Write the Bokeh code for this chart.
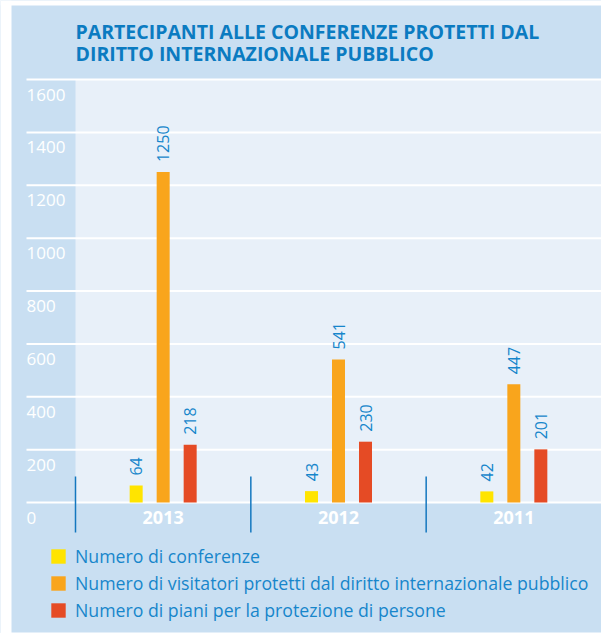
import numpy as np
from bokeh.plotting import figure
from bokeh.models import Range1d, BoxAnnotation, Legend, LegendItem, ColumnDataSource
from bokeh.core.properties import value
from bokeh.embed import file_html
from bokeh.resources import INLINE

# ---------------- data ----------------
years = ["2013", "2012", "2011"]
series_names = [
    "Numero di conferenze",
    "Numero di visitatori protetti dal diritto internazionale pubblico",
    "Numero di piani per la protezione di persone",
]
conferenze = [64, 43, 42]
visitatori = [1250, 541, 447]
piani = [218, 230, 201]
y_ticks = [0, 200, 400, 600, 800, 1000, 1200, 1400, 1600]
title_lines = ["PARTECIPANTI ALLE CONFERENZE PROTETTI DAL",
               "DIRITTO INTERNAZIONALE PUBBLICO"]

# ---------------- styling ----------------
PANEL = "#c9dff2"
PLOT_BG = "#e8f0f9"
TITLE_BLUE = "#0b7bc1"
TEXT_BLUE = "#1786cb"
SEP_BLUE = "#1477bf"
COLORS = ["#ffe400", "#f9a51c", "#e54b25"]
FONT = "Open Sans"

W, H = 601, 633
PAGE_X0, PAGE_Y0 = 0, 0
ZERO_PX = 502       # page y of value 0
TOP_PX = 79         # page y of value 1600
CAT_LEFT_PX = 75    # page x of left edge of first category
CAT_RIGHT_PX = 601  # page x of right edge of last category

py_per_unit = (ZERO_PX - TOP_PX) / y_ticks[-1]
px_per_cat = (CAT_RIGHT_PX - CAT_LEFT_PX) / len(years)

def ydata(page_y):
    return (ZERO_PX - page_y) / py_per_unit

def xdata(page_x):
    return (page_x - CAT_LEFT_PX) / px_per_cat

x_range = Range1d(xdata(PAGE_X0), xdata(PAGE_X0 + W))
y_range = Range1d(ydata(PAGE_Y0 + H), ydata(PAGE_Y0))

p = figure(width=W, height=H, x_range=x_range, y_range=y_range,
           x_axis_type=None, y_axis_type=None, toolbar_location=None,
           output_backend="svg", min_border=0)
p.outline_line_color = None
p.background_fill_color = PANEL
p.border_fill_color = PANEL
p.grid.visible = False

# white margins around the panel
p.add_layout(BoxAnnotation(right=xdata(11), fill_color="white", fill_alpha=1,
                           line_color=None, level="image"))
p.add_layout(BoxAnnotation(bottom=ydata(5), fill_color="white", fill_alpha=1,
                           line_color=None, level="image"))
p.add_layout(BoxAnnotation(top=ydata(632), fill_color="white", fill_alpha=1,
                           line_color=None, level="image"))
# light plot area
p.add_layout(BoxAnnotation(left=0, bottom=0, top=y_ticks[-1], fill_color=PLOT_BG,
                           fill_alpha=1, line_color=None, level="image"))

# grid lines (white)
grid_x0 = xdata(26)
p.segment(x0=[grid_x0] * len(y_ticks), x1=[len(years)] * len(y_ticks),
          y0=y_ticks, y1=y_ticks, line_color="white", line_width=2)

# y tick labels
p.text(x=[grid_x0] * len(y_ticks), y=y_ticks, text=[str(t) for t in y_ticks],
       text_color="white", text_font=value(FONT), text_font_size="17px",
       text_align="left", text_baseline="middle", y_offset=15)

# bars
centers = np.arange(len(years)) + 0.5
offset = 27 / px_per_cat
bar_w = 13 / px_per_cat
legend_items = []
for i, (vals, col, name) in enumerate(zip([conferenze, visitatori, piani], COLORS, series_names)):
    xs = centers + (i - 1) * offset
    src = ColumnDataSource(dict(x=xs, top=vals, lab=[str(v) for v in vals]))
    r = p.vbar(x="x", top="top", bottom=0, width=bar_w, source=src,
               fill_color=col, line_color=None)
    legend_items.append(LegendItem(label=name, renderers=[r]))
    p.text(x="x", y="top", text="lab", source=src, angle=np.pi / 2,
           text_color=TEXT_BLUE, text_font=value(FONT), text_font_size="16px",
           text_align="left", text_baseline="middle", y_offset=-10)

# category labels
p.text(x=centers, y=[0] * len(years), text=years, text_color="white",
       text_font=value(FONT), text_font_size="18px", text_font_style="bold",
       text_align="center", text_baseline="middle", y_offset=15)

# separators
seps = np.arange(len(years))
p.segment(x0=seps, x1=seps, y0=[ydata(476)] * len(seps), y1=[ydata(532)] * len(seps),
          line_color=SEP_BLUE, line_width=1.5)

# title
p.text(x=[xdata(75)] * 2, y=[ydata(31), ydata(53)], text=title_lines,
       text_color=TITLE_BLUE, text_font=value(FONT), text_font_size="19.5px",
       text_font_style="bold", text_align="left", text_baseline="middle")

legend = Legend(items=legend_items, location=(49, 11), orientation="vertical",
                glyph_width=18, glyph_height=18, label_height=18, spacing=3,
                label_standoff=8, padding=0, margin=0,
                label_text_font=FONT, label_text_font_size="17.7px",
                label_text_color=TEXT_BLUE, label_text_baseline="middle",
                background_fill_alpha=0, border_line_color=None)
p.add_layout(legend)

open("out.html", "w").write(file_html(p, INLINE))
